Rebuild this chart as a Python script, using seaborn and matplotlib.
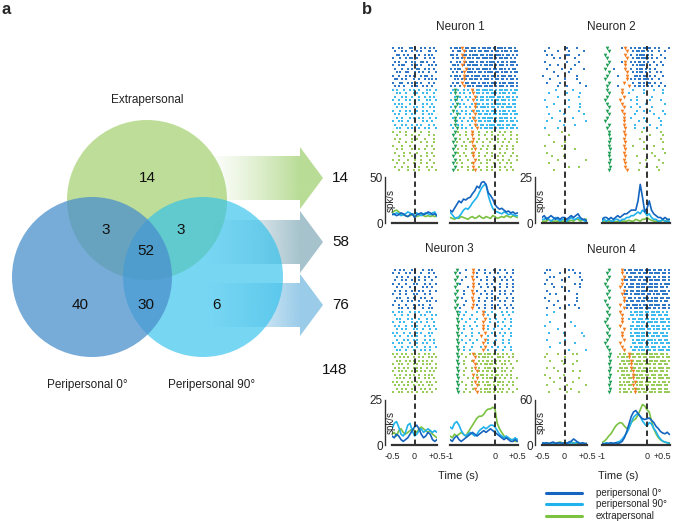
import numpy as np
import pandas as pd
import seaborn as sns
import matplotlib.pyplot as plt
import matplotlib.colors as mcolors
from matplotlib.patches import Circle, Polygon
from matplotlib.lines import Line2D

# ---------------- panel a : Venn counts ----------------
VENN_SETS = ['Extrapersonal', 'Peripersonal 90°', 'Peripersonal 0°']
# extra only, extra&p0, extra&p90, all three, p0 only, p0&p90, p90 only
VENN_COUNTS = [14, 3, 3, 52, 40, 30, 6]
ARROW_TOTALS = [14, 58, 76]
GRAND_TOTAL = 148

# ---------------- panel b : neurons ----------------
CONDS = ['peripersonal 0°', 'peripersonal 90°', 'extrapersonal']
NEURONS = ['Neuron 1', 'Neuron 2', 'Neuron 3', 'Neuron 4']
PSTH_MAX = [50, 25, 25, 60]
LEFT_TICKS = ['-0.5', '0', '+0.5']
RIGHT_TICKS = ['-1', '0', '+0.5']

# PSTH (spk/s), left window -0.5..+0.5 s, right window -1..+0.5 s, 50 ms bins
N1_L_P0 = [9, 10, 8, 9, 11, 10, 8, 7, 9, 10, 6, 9, 10, 11, 9, 10, 12, 11, 9, 10, 8]
N1_L_P90 = [10, 9, 11, 10, 8, 9, 10, 12, 11, 9, 10, 11, 9, 8, 10, 11, 10, 9, 11, 12, 7]
N1_L_EXT = [11, 13, 14, 12, 10, 9, 8, 7, 8, 9, 8, 7, 8, 9, 8, 7, 8, 7, 8, 7, 8]
N1_R_P0 = [14, 12, 16, 20, 24, 22, 26, 25, 27, 28, 32, 35, 40, 38, 44, 45, 42, 33, 30, 26,
           20, 17, 15, 16, 14, 12, 13, 11, 12, 10, 11]
N1_R_P90 = [12, 9, 6, 5, 7, 10, 14, 16, 15, 18, 22, 25, 28, 33, 38, 41, 42, 30, 22, 16,
            13, 12, 11, 10, 12, 11, 9, 10, 9, 8, 8]
N1_R_EXT = [6, 5, 4, 6, 5, 7, 6, 5, 4, 6, 7, 5, 6, 8, 6, 5, 7, 6, 5, 8,
            7, 5, 6, 7, 6, 8, 7, 6, 8, 7, 6]

N2_L_P0 = [3, 4, 2, 3, 4, 3, 2, 3, 2, 3, 3, 2, 3, 4, 3, 4, 5, 3, 2, 2, 1]
N2_L_P90 = [2, 2, 3, 2, 1, 2, 3, 2, 1, 2, 2, 1, 2, 3, 2, 2, 3, 2, 2, 1, 1]
N2_L_EXT = [1, 1, 1, 2, 1, 1, 1, 1, 0.5, 1, 1, 1, 1, 1.5, 1, 2, 2, 1, 1.5, 2, 2]
N2_R_P0 = [2, 3, 3, 2, 3, 2, 3, 4, 3, 4, 5, 5, 6, 7, 7, 7, 12, 21, 14, 6,
           8, 12, 7, 5, 4, 3, 3, 2, 3, 2, 2]
N2_R_P90 = [1, 2, 1, 2, 1, 1, 2, 2, 1, 2, 2, 3, 3, 4, 4, 5, 6, 5, 7, 6,
            4, 5, 3, 2, 2, 1, 1, 2, 1, 1, 1]
N2_R_EXT = [1, 1, 0.5, 1, 1, 1, 0.5, 1, 1, 1, 1, 1, 1.5, 1, 1, 2, 1.5, 1, 2, 2,
            3, 2, 1.5, 1, 1, 1, 1, 1.5, 1, 1.5, 2]

N3_L_P0 = [5, 4, 6, 5, 3, 2, 3, 4, 6, 8, 10, 11, 9, 6, 4, 5, 7, 6, 3, 2, 3]
N3_L_P90 = [9, 12, 13, 10, 6, 5, 7, 11, 12, 8, 5, 6, 8, 9, 7, 8, 9, 8, 7, 8, 7]
N3_L_EXT = [6, 7, 5, 8, 9, 7, 6, 7, 8, 9, 8, 7, 9, 10, 9, 8, 7, 8, 6, 5, 4]
N3_R_P0 = [3, 2, 4, 5, 3, 2, 3, 4, 5, 6, 7, 6, 5, 6, 7, 8, 7, 8, 9, 8,
           7, 6, 5, 4, 3, 4, 3, 2, 2, 3, 2]
N3_R_P90 = [10, 9, 12, 13, 11, 8, 6, 5, 6, 7, 6, 5, 6, 8, 9, 10, 9, 10, 11, 11,
            10, 8, 6, 5, 4, 5, 4, 3, 3, 4, 3]
N3_R_EXT = [5, 4, 6, 5, 6, 7, 6, 5, 7, 9, 11, 13, 15, 16, 16, 17, 19, 20, 20, 21,
            20, 12, 9, 7, 5, 4, 4, 3, 3, 2, 2]

N4_L_P0 = [3, 2, 3, 2, 3, 4, 2, 3, 3, 2, 3, 2, 4, 5, 8, 6, 3, 2, 3, 2, 2]
N4_L_P90 = [2, 3, 2, 1, 2, 3, 2, 2, 3, 2, 2, 3, 2, 3, 2, 3, 4, 2, 2, 1, 2]
N4_L_EXT = [2, 2, 3, 2, 2, 1, 2, 3, 4, 3, 2, 2, 3, 4, 3, 2, 2, 1, 2, 2, 1]
N4_R_P0 = [2, 1, 2, 2, 3, 2, 3, 2, 3, 5, 10, 18, 28, 38, 44, 46, 42, 38, 35, 34,
           35, 36, 33, 30, 25, 22, 18, 16, 15, 17, 14]
N4_R_P90 = [2, 2, 3, 2, 3, 2, 3, 4, 5, 8, 12, 16, 22, 30, 37, 40, 42, 38, 32, 28,
            25, 30, 28, 22, 18, 12, 8, 5, 4, 3, 2]
N4_R_EXT = [3, 5, 8, 12, 15, 20, 25, 28, 30, 29, 25, 22, 24, 30, 33, 35, 40, 47, 54, 52,
            47, 44, 32, 22, 15, 10, 7, 5, 4, 3, 3]

# rasters: one string per trial, "left right", one char per 1/24 s
# '|' spike, 'g' green event, 'o' orange event; 12 trials per condition
RASTER_N1 = [
    "|..|.|...||.|..|.|..|.|. |.||.|o.||.|||.|.||.||.|.|||.|.||.|.",
    ".|...|.|..|..|.|...||..| .|..||.o|.||.|.||.|||.|.||.|.||.|.||",
    "..||..|.|...|.|..|.|.|.. ||.|..o||.|.|||.||.|.||.|||.|.||.|.|",
    "|...|..|.||..|...|..|.|. .|.||.|o.||.|.||.|||.||.|.||.||.|.|.",
    ".|.|...|..|.|..||.|...|. |..|.|.o|.|||.|.||.|.|||.|.||.|.|||.",
    "|..|.||...|..|.|...|.|.| .||.|.o|.||.|||.|.||.||.|.|||.|.||.|",
    ".|...|..|.|..||..|.|..|. |.|.||..o||.|.||.|||.|.||.||.|.|.||.",
    "..|.|..||...|.|.|..|...| .|.|..|o.|||.|.||.|.|||.||.|.||.|.||",
    "|..|...|.|.|...|.||..|.. |.||.|.o||.|.|||.||.|.||.|.|||.||.|.",
    ".||..|.|...|..|..|.|.|.| ..|.|.|o|.||.||.|.|||.|.||.||.|.||.|",
    "|...||..|.|..|.|...|..|. .|.||.o.||.|||.|.||.|.|||.|.||.|||.|",
    ".|.|..|...|.||..|.|..|.. |.|..|.o.||.|.|||.||.||.|.|||.|.||.|",
    "|.|...|..|.|..|...|.|..| .|g.|..|.|.o|.||.|||.||.|.||.||.|.||",
    "..|.|..|...|.|..|.|...|. |.g..|.|..|.o.||.|.||.|||.|.||.|.||.",
    ".|...|.|..|...|..|..|.|. ..|g.|..|.|..o|.||.|.|||.||.|.||.|.|",
    "|..|...|.|..|.|...|.|..| |.g|..|..|..o.|.||.||.|.||.|||.|.||.",
    ".|.|.|...|..|...|.|..|.. .|.g.|.|...|.o||.|.||.|.|||.||.|.||.",
    "..|..|.|...|.|..|...|.|. |.g..|..|.|..o|.|||.|.||.|.||.|||.|.",
    "|...|..|.|...|..|.|...|. .g.|..|.|..|o.||.|.||.|||.|.||.|.||.",
    ".|.|...|..|.|...|..|.|.. |..g.|..|.|..o.||.||.|.||.|.|||.|.||",
    "..|..|...|.|..|.|...|..| .|g..|.|..|.o|.|.||.|||.|.||.||.|.|.",
    "|..|.|..|...|...|.|..|.. ..g|..|..|.|.o.||.|.||.||.|||.|.||.|",
    ".|...|.|..|..|.|...|..|. |.g.|.|...|..o|.||.|.|||.||.|.||.||.",
    "..|.|...|.|...|..|.|...| .|.g..|.|..|..o.|.||.||.|.|||.|.||.|",
    "|...|..|....|..|...|.... ..g.|...|..o|..|...|..|...|..|..|...",
    "..|....|..|...|....|..|. .g...|..|..o...|..|...|..|..|...|..|",
    ".|..|.....|..|...|....|. ..g..|...|..o..|...|..|..|...|..|..|",
    "...|...|..|....|..|...|. .g.|...|..|o..|..|...|...|..|..|...|",
    "|....|...|..|.....|..|.. ..g...|.|...o|...|..|..|...|..|..|..",
    "..|..|....|...|..|....|. .g..|...|..|.o..|..|...|..|...|..|..",
    ".|....|..|...|....|..|.. ..g.|..|...|o..|...|..|...|..|...|..",
    "...|..|...|....|..|...|. .g...|..|...o..|..|...|..|..|...|..|",
    "|..|....|...|..|....|... ..g..|...|...o.|...|.|...|..|..|...|",
    "..|...|....|...|..|...|. .g.|..|....|o...|..|...|..|...|.|...",
    ".|...|..|.....|...|..|.. ..g...|..|..o..|...|..|...|..|..|...",
    "...|....|..|..|....|...| .g..|....|..|o..|..|..|...|...|..|..",
]
RASTER_N2 = [
    "...|.........|....|..... ..g.......|.o..|.|.||.||||..|.|....|.",
    ".|......|.....|.......|. ...g.........o..|.||.||.|.|...|..|..",
    "..|..|.......||....|.... .g..........o..|..|.|||.|.|....|....",
    "......|..|.......|...... ..g..........o..|.||.||||.|..|...|..",
    ".|...........|.....|.... ...g......|.o..|.|.||.|.|..|...|....",
    "....|...|........|...... ..g.........o...|.|.|||..|...|..|...",
    "..|.......|....|......|. .g....|.....o..|..|.||.|.|..|.......",
    "......|.......|......... ...g.........o..|.|.||.|.|...|.|....",
    "|.......|.........|..... ..g.....|....o...||.|.||.|..|...|...",
    "....|.......|.....|..... .g...........o.|.|.||.|||.|...|.....",
    "..|......|..........|... ...g.......o....|..||.|.||..|..|....",
    "........|....|.........| ..g.....|.....o..|.||.|.|.|...|..|..",
    ".......|........|....... ..g.......o.....|.....|....|....|...",
    "...|.........|......|... ...g......o...|.......|.........|...",
    "........|..........|.... ..g........o......|.......|.........",
    ".|............|......... .g.......o.....|..|......|.....|....",
    "......|.....|.......|... ..g.......o.......|....|.........|..",
    "..|...........|.....|... ...g.......o...|....|.....|.........",
    ".........|.........|.... ..g.......o.......|...|..|......|...",
    "...|.......|..........|. ...g.......o.....|.........|.....|..",
    ".....|..........|....... ..g........o...|......|.......|.....",
    "..|......|.............| .g.........o.......|...|.......|....",
    "...........|.....|...... ...g.......o.....|.......|.....|....",
    ".|......|............... ..g.........o....|....|......|......",
    "..........|............. ...g.......o.........|.........|....",
    "...|..........|......... ...g........o............|......|...",
    "........................ ....g......o........|..........|....",
    "......|.....|........... ...g........o.........|.........|...",
    ".|........|............. ...g.......o....|..........|........",
    "...........|.....|...... ....g.......o.........|.........|...",
    "..|..................... ...g.......o..............|......|..",
    ".....|.....|............ ...g........o.....|.........|.......",
    "........|..............| ....g......o...........|......|.....",
    "...|.................... ...g........o.......|...........|...",
    "..............|....|.... ....g.......o..........|.....|......",
    "......|................. ...g.........o.....|..........|.....",
]
RASTER_N3 = [
    ".|..|.|...|.|...|..|.|.. ...g....|...o..|..|....|..|..|...|..",
    "|..|...|.|..|..|...|..|. ..g..|......o.|...|..|...|....|..|..",
    "..|..|..|...|.|..|.|...| ...g....|..o..|....|...|..|..|..|...",
    ".|...|.|..|...|..|...|.. ..g...|.....o...|..|...|...|..|..|..",
    "|..|...|...|.|...|..|..| ...g.|......o..|...|..|...|...|..|..",
    "..|..|...|..|...|.|..|.. ..g......|..o...|...|..|..|...|..|..",
    ".|..|..|..|...|.|...|..| ...g...|...o..|...|...|...|..|...|..",
    "|...|..|...|.|...|..|... ..g....|....o...|..|..|...|..|..|...",
    "..|.|...|..|...|.|...|.. ...g..|....o...|...|..|..|....|..|..",
    ".|...|..|.|...|...|.|..| ..g.....|...o..|..|...|...|..|...|..",
    "|..|...|...|..|.|...|... ...g...|....o.|...|...|..|...|..|...",
    "...|.|..|..|....|..|.|.. ..g..|.....o...|..|...|...|...|..|..",
    "|..|.|...|..|.|...|.|... ...g.|..|.....|..o|...|....|..|..|..",
    ".|...|..|...|..|.|...|.| ....g..|...|.....o..|...|...|..|....",
    "..|.|...|.|...|...|..|.. ...g..|...|...|...o..|..|....|..|...",
    "|...|.|...|..|.|..|...|. ....g...|....|...o...|...|..|...|...",
    ".|.|...|..|..|...|.|..|. ...g...|..|...|..o..|....|...|..|...",
    "..|..|.|...|.|..|...|..| ....g..|...|.....o..|..|...|...|....",
    "|.|...|..|...|.|...|.|.. ...g..|....|...|..o...|...|..|..|...",
    ".|..|...|.|..|...|..|... ....g...|..|....o...|...|...|...|...",
    "..|...|.|..|.|...|..|.|. ...g..|...|...|...o.|...|...|..|....",
    "|..|.|...|...|..|.|...|. ....g...|...|....o..|..|....|..|....",
    ".|...|..|.|..|...|..|..| ...g...|...|....|.o...|..|...|..|...",
    "..|.|..|...|...|.|..|... ....g..|..|......o..|...|...|...|...",
    "|.|..|.|..|.|.|..|.|..|. ...g..|...|.o|.||.|.||.|.|..|.|..|..",
    ".|..|.|.|..|..|.|..|.|.| ....g...|....o.|.||.|.|..||.|..|.|..",
    "..|.|..|.|.|..|.|.|..|.. ...g...|...|o..|.|.||.|.|.|..|.|...|",
    "|..|.|..|..|.|..|.|.|..| ....g..|.....o|.|.||.||.|..|.|..|...",
    ".|.|..|.|..|.|.|..|..|.| ...g....|..|.o.|..|.||.|.|.|..|..|..",
    "|..|.|.|..|..|.|.|..|.|. ....g..|...|..o|.|.||.|.|..|.|..|...",
    ".|..|..|.|.|..|..|.|.|.. ...g...|....o.|.||.|..|.||.|..|.|...",
    "..|.|.|..|..|.|..|.|..|. ....g....|..|.o..|.|.||.|.|..|..|..|",
    "|.|..|..|.|..|.|..|.|..| ...g..|....|.o.|.|.||..|.||.|..|.|..",
    ".|.|..|.|..|..|.|..|.|.. ....g...|..|..o|..|.||.|.|..|.|..|..",
    "..|..|.|..|.|..|.|..|..| ...g....|...|o..|.||.|.||.|.|..|...|",
    "|..|.|..|.|..|..|.|..|.. ....g..|..|...o.|.|.||.|.|.|..|..|..",
]
RASTER_N4 = [
    "..|.|.........|.|....... ...g......o.|.||.||.||.|||.||.||.|.|",
    ".|.......|.......|..|... ..g.......o..|.|||.||.||.||.|||.||.|",
    "....|.|.......|.....|... ...g.......o|.||.||.||.|||.||.|.||.|",
    "..|.......|.|........|.. ..g.......o.||.|||.||.||.||.|||.||.|",
    ".|...|...........|..|... .g........o..|.||.||.|||.||.||.|.|||",
    "......|...|.........|... ..g......o..|.|||.||.||.|||.||.||.|.",
    "..|.........|.|......... ...g.......o.|.||.||.|||.||.||.|||.|",
    "....|..|..........|..... ..g.......o.||.|.|||.||.||.|.||.|||.",
    ".|..........|.....|..... ...g.......o..||.|.||.|||.|.||.||.||",
    "...|....|.........|..... .g.........o.|.||.||.||.|||.||.|.||.",
    "......|.......|..|...... ..g......o...||.|||.|.||.||.|||.||.|",
    "..|......|.........|.... ...g.......o.|.|.||.||.|||.||.|.||.|",
    "......|................. ..g......o.....|.||.||.||.||.||.|.|",
    "..|.........|........... ...g......o....||.|.||.||.|||.||.||.",
    "........................ ..g.......o...|.||.|||.||.||.|.||.||",
    "....|..........|........ .g........o.....|.||.||.|||.||.|||.|",
    ".|...............|...... ..g......o.....||.||.|.||.||.||.|.||",
    "........|............... ...g.......o...|.||.|||.||.|.||.||.|",
    "...|.......|.........|.. ..g.......o....|.|||.||.||.|||.||.|.",
    "......................|. ...g......o....||.||.||.|.||.||.|||.",
    "..|.........|........... ..g........o....|.||.||.|||.|.||.||.",
    ".........|.......|...... .g.......o......||.|||.||.|.||.||.||",
    "....|................... ..g.......o....|.||.||.||.|||.|.||.|",
    "..............|........| ...g.......o....||.|.||.||.||.|||.||",
    "..|.....|.......|.|..... ....g....|.||.o||.||.|||.||.||.||.|.",
    ".|..........|........... ...g....|.||.|o.||.||.||.|||.||.|.||",
    "....|.....|.......|..... ....g.....||.||o|.|||.||.||.||.|||.|",
    "...........|....|....... ...g.....|.||.|o.||.||.|||.||.||.||.",
    "..|...|................. ....g....||.||.o||.||.||.|.||.|||.||",
    "........|.......|...|... ...g....|.||.|.|o.||.|||.||.||.||.|",
    ".|.........|............ ....g.....||.||.o||.||.||.|||.||.||.",
    "....|....|.........|.... ...g.....|.||.||o.||.||.||.||.|||.||",
    "......|.........|....... ....g....|.|.||.|o|.||.|||.||.|.||.|",
    "..|..........|.........| ...g.....||.|.||o.|.||.||.||.|||.||.",
    ".........|.....|........ ....g....|.||.|.|o||.||.|.|||.||.||.",
    "...|.........|.....|.... ...g.....|.|||.|.o.||.||.||.|.||.|||",
]
RASTERS = [RASTER_N1, RASTER_N2, RASTER_N3, RASTER_N4]
PSTHS = [
    ((N1_L_P0, N1_L_P90, N1_L_EXT), (N1_R_P0, N1_R_P90, N1_R_EXT)),
    ((N2_L_P0, N2_L_P90, N2_L_EXT), (N2_R_P0, N2_R_P90, N2_R_EXT)),
    ((N3_L_P0, N3_L_P90, N3_L_EXT), (N3_R_P0, N3_R_P90, N3_R_EXT)),
    ((N4_L_P0, N4_L_P90, N4_L_EXT), (N4_R_P0, N4_R_P90, N4_R_EXT)),
]

# ---------------- styling ----------------
sns.set_style('white')
plt.rcParams['font.family'] = ['Liberation Sans Narrow', 'Liberation Sans', 'DejaVu Sans']

LINE_COLORS = {'peripersonal 0°': '#1565c0', 'peripersonal 90°': '#1fb2ec', 'extrapersonal': '#7cc242'}
SPIKE_COLORS = {'peripersonal 0°': '#2f78c8', 'peripersonal 90°': '#3dbbee', 'extrapersonal': '#98cb5a'}
EVENT_COLORS = {'g': '#1f9e55', 'o': '#f47c20'}

W, H = 675, 521
BIN = 1 / 24


def box(x0, y0, x1, y1):
    return [x0 / W, 1 - y1 / H, (x1 - x0) / W, (y1 - y0) / H]


def gradient_arrow(ax, yc, color):
    verts = [(200, yc - 22), (300, yc - 22), (300, yc - 31), (323, yc),
             (300, yc + 31), (300, yc + 22), (200, yc + 22)]
    poly = Polygon(verts, closed=True, facecolor='none', edgecolor='none')
    ax.add_patch(poly)
    xs = np.linspace(200, 323, 250)
    img = np.zeros((2, xs.size, 4))
    img[..., :3] = mcolors.to_rgb(color)
    img[..., 3] = np.clip((xs - 205) / 95, 0, 1) ** 1.3
    im = ax.imshow(img, extent=(200, 323, yc + 31, yc - 31), aspect='auto',
                   interpolation='bilinear', zorder=1)
    im.set_clip_path(poly)


def parse_raster(rows):
    per_cond = len(rows) // len(CONDS)
    left, right = [], []
    for trial, row in enumerate(rows):
        cond = CONDS[trial // per_cond]
        lpart, rpart = row.split()
        for i, ch in enumerate(lpart):
            if ch == '|':
                left.append((-0.5 + (i + 0.5) * BIN, trial, cond, ch))
        for i, ch in enumerate(rpart):
            if ch != '.':
                right.append((-1 + (i + 0.5) * BIN, trial, cond, ch))
    cols = ['t', 'trial', 'cond', 'kind']
    return pd.DataFrame(left, columns=cols), pd.DataFrame(right, columns=cols)


def psth_frame(t, series):
    frames = [pd.DataFrame({'t': t, 'rate': s, 'cond': c}) for c, s in zip(CONDS, series)]
    return pd.concat(frames, ignore_index=True)


fig = plt.figure(figsize=(6.75, 5.21), dpi=100)

# ================= panel a =================
ax = fig.add_axes([0, 0, 340 / W, 1])
for yc, col in zip([178, 242, 305], ['#b9dc96', '#a6c3cd', '#9acce9']):
    gradient_arrow(ax, yc, col)

circle_style = {
    'Extrapersonal': ((147, 200), '#a5d171', 0.72),
    'Peripersonal 90°': ((203, 277), '#2ec0ec', 0.65),
    'Peripersonal 0°': ((92, 277), '#4a8fcc', 0.75),
}
for name in VENN_SETS:
    (cx, cy), col, a = circle_style[name]
    ax.add_patch(Circle((cx, cy), 80, facecolor=col, alpha=a, edgecolor='none', zorder=2))

count_pos = [(147, 178), (106, 230), (181, 230), (146, 251), (80, 305), (146, 305), (217, 305)]
for n, (x, y) in zip(VENN_COUNTS, count_pos):
    ax.text(x, y, str(n), ha='center', va='center', fontsize=11, color='#111', zorder=3)

ax.text(147, 100, 'Extrapersonal', ha='center', va='center', fontsize=8.5, color='#222')
ax.text(87, 385, 'Peripersonal 0°', ha='center', va='center', fontsize=8.5, color='#222')
ax.text(212, 385, 'Peripersonal 90°', ha='center', va='center', fontsize=8.5, color='#222')
for n, y in zip(ARROW_TOTALS, [178, 242, 305]):
    ax.text(332, y, str(n), ha='left', va='center', fontsize=11, color='#111')
ax.text(322, 370, str(GRAND_TOTAL), ha='left', va='center', fontsize=11, color='#111')
ax.text(2, 10, 'a', ha='left', va='center', fontsize=12, fontweight='bold')
ax.set_xlim(0, 340)
ax.set_ylim(H, 0)
ax.axis('off')

fig.text(362 / W, 1 - 10 / H, 'b', ha='left', va='center', fontsize=12, fontweight='bold')

# ================= panel b =================
col_x = [(392, 437, 450, 517.5), (542, 587, 602, 669.5)]
row_y = [(46, 172, 177, 223), (268, 394, 400, 445)]
title_xy = [(460, 27), (611, 27), (449, 249), (611, 250)]

for k in range(4):
    lx0, lx1, rx0, rx1 = col_x[k % 2]
    ry0, ry1, py0, py1 = row_y[k // 2]
    ymax = PSTH_MAX[k]
    bottom = k >= 2
    n_trials = len(RASTERS[k])
    row_px = (ry1 - ry0) / n_trials
    left_df, right_df = parse_raster(RASTERS[k])
    psth_l, psth_r = PSTHS[k]

    for side, (x0, x1) in enumerate([(lx0, lx1), (rx0, rx1)]):
        xlim = (-0.5, 0.5) if side == 0 else (-1, 0.5)
        ticks = [-0.5, 0, 0.5] if side == 0 else [-1, 0, 0.5]
        labels = list(LEFT_TICKS if side == 0 else RIGHT_TICKS)
        edge_label = bottom and side == 1 and k % 2 == 1
        if edge_label:
            labels[-1] = ''

        # raster
        rax = fig.add_axes(box(x0, ry0, x1, py0))
        df = left_df if side == 0 else right_df
        spikes = df[df['kind'] == '|']
        sns.scatterplot(data=spikes, x='t', y='trial', hue='cond', palette=SPIKE_COLORS,
                        marker='s', s=2.2, linewidth=0, legend=False, ax=rax)
        for ch in ['g', 'o']:
            ev = df[df['kind'] == ch]
            if len(ev):
                sns.scatterplot(data=ev, x='t', y='trial', color=EVENT_COLORS[ch], marker='v',
                                s=7, linewidth=0, legend=False, ax=rax)
        rax.axvline(0, color='#222', ls=(0, (3, 2)), lw=1.3)
        rax.set_xlim(xlim)
        rax.set_ylim(-0.5 + (py0 - ry0) / row_px, -0.5)
        rax.axis('off')

        # PSTH
        pax = fig.add_axes(box(x0, py0, x1, py1))
        t = np.linspace(xlim[0], xlim[1], 21 if side == 0 else 31)
        pdf = psth_frame(t, psth_l if side == 0 else psth_r)
        sns.lineplot(data=pdf, x='t', y='rate', hue='cond', palette=LINE_COLORS,
                     hue_order=CONDS[::-1], lw=1.2, legend=False, ax=pax)
        pax.axvline(0, color='#222', ls=(0, (3, 2)), lw=1.3)
        pax.set_xlim(xlim)
        pax.set_ylim(0, ymax)
        pax.set_xlabel('')
        pax.set_ylabel('')
        sns.despine(ax=pax)
        pax.spines['bottom'].set_linewidth(1.6)
        pax.spines['bottom'].set_color('#333')
        pax.set_xticks(ticks)
        pax.set_xticklabels(labels)
        pax.tick_params(axis='x', direction='out', length=3, width=1, color='#333',
                        labelsize=6.5, pad=2, labelbottom=bottom)
        if edge_label:
            pax.annotate(RIGHT_TICKS[-1], xy=(0.5, 0), xycoords=('data', 'axes fraction'),
                         xytext=(-5, -5), textcoords='offset points', ha='center', va='top',
                         fontsize=6.5, color='.15', annotation_clip=False)
        if side == 0:
            pax.spines['left'].set_position(('outward', 5))
            pax.spines['left'].set_bounds(0, ymax)
            pax.spines['left'].set_linewidth(1.0)
            pax.spines['left'].set_color('#333')
            pax.set_yticks([0, ymax])
            pax.tick_params(axis='y', length=0, labelsize=8.5, pad=1.5)
            pax.text(-0.035, 0.5, 'spk/s', transform=pax.transAxes, rotation=90,
                     ha='center', va='center', fontsize=7)
        else:
            pax.spines['left'].set_visible(False)
            pax.set_yticks([])

    tx, ty = title_xy[k]
    fig.text(tx / W, 1 - ty / H, NEURONS[k], ha='center', va='center', fontsize=8.5)

fig.text(458 / W, 1 - 476 / H, 'Time (s)', ha='center', va='center', fontsize=8)
fig.text(618 / W, 1 - 476 / H, 'Time (s)', ha='center', va='center', fontsize=8)

handles = [Line2D([], [], color=LINE_COLORS[c], lw=2.2) for c in CONDS]
fig.legend(handles, CONDS, loc='upper left', bbox_to_anchor=(546 / W, 1 - 488 / H),
           frameon=False, fontsize=7, handlelength=3.7, handletextpad=1.4,
           labelspacing=0.15, borderpad=0, borderaxespad=0)

fig.savefig('out.png', dpi=100)
